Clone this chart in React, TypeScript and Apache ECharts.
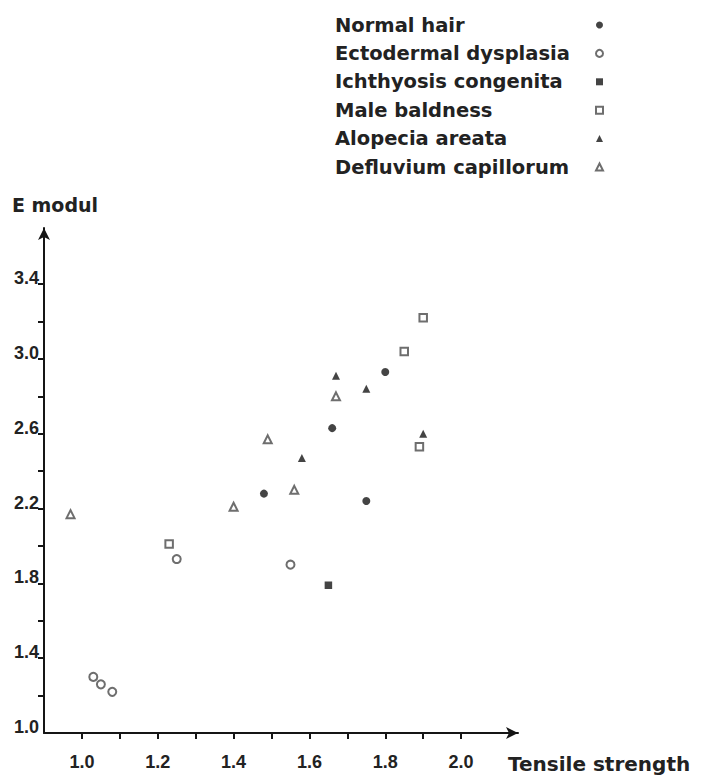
import React, { useEffect, useRef } from "react";
import * as echarts from "echarts";

const categories = [
  "Normal hair",
  "Ectodermal dysplasia",
  "Ichthyosis congenita",
  "Male baldness",
  "Alopecia areata",
  "Defluvium capillorum",
];

const normalHair = [[1.80, 2.93], [1.66, 2.63], [1.48, 2.28], [1.75, 2.24]];
const ectodermalDysplasia = [[1.25, 1.93], [1.55, 1.90], [1.03, 1.30], [1.05, 1.26], [1.08, 1.22]];
const ichthyosisCongenita = [[1.65, 1.79]];
const maleBaldness = [[1.90, 3.22], [1.85, 3.04], [1.89, 2.53], [1.23, 2.01]];
const alopeciaAreata = [[1.67, 2.91], [1.75, 2.84], [1.90, 2.60], [1.58, 2.47]];
const defluviumCapillorum = [[1.67, 2.80], [1.49, 2.57], [1.56, 2.30], [1.40, 2.21], [0.97, 2.17]];

const seriesData = [normalHair, ectodermalDysplasia, ichthyosisCongenita, maleBaldness, alopeciaAreata, defluviumCapillorum];
const seriesSymbols = ["circle", "emptyCircle", "rect", "emptyRect", "triangle", "emptyTriangle"];

const xTickValues = [1.0, 1.1, 1.2, 1.3, 1.4, 1.5, 1.6, 1.7, 1.8, 1.9, 2.0];
const xLabelValues = [1.0, 1.2, 1.4, 1.6, 1.8, 2.0];
const yTickValues = [1.2, 1.4, 1.6, 1.8, 2.0, 2.2, 2.4, 2.6, 2.8, 3.0, 3.2, 3.4];
const yLabelValues = [1.0, 1.4, 1.8, 2.2, 2.6, 3.0, 3.4];

const xAxisName = "Tensile strength";
const yAxisName = "E modul";

const INK = "#151515";
const OPEN = "#4a4a4a";
const TEXT_FONT = "DejaVu Sans";
const TICK_FONT = "Liberation Sans";

export default function App() {
  const ref = useRef<HTMLDivElement>(null);

  useEffect(() => {
    if (!ref.current) return;
    const chart = echarts.init(ref.current, null, { renderer: "svg" });

    const series = categories.map((name, i) => {
      const sym = seriesSymbols[i];
      const empty = sym.startsWith("empty");
      const size = sym.toLowerCase().includes("rect") ? 7.5 : 8;
      return {
        name,
        type: "scatter",
        data: seriesData[i],
        symbol: sym,
        symbolSize: size,
        itemStyle: empty
          ? { color: OPEN, borderColor: OPEN, borderWidth: 1.2 }
          : { color: INK },
      };
    });

    chart.setOption({
      animation: false,
      backgroundColor: "#ffffff",
      grid: { left: 44, right: 186, top: 228, bottom: 48, containLabel: false },
      legend: {
        orient: "vertical",
        left: 335,
        top: 15,
        padding: 0,
        itemGap: 8.4,
        itemWidth: 7,
        itemHeight: 7,
        align: "right",
        data: categories,
        formatter: (name: string) => `{t|${name}}`,
        textStyle: {
          rich: {
            t: {
              width: 256,
              align: "left",
              fontFamily: TEXT_FONT,
              fontSize: 19.5,
              fontWeight: "bold",
              color: "#222",
              lineHeight: 20,
            },
          },
        },
      },
      graphic: [
        {
          type: "text",
          x: 508,
          y: 764,
          silent: true,
          style: {
            text: xAxisName,
            fontFamily: TEXT_FONT,
            fontSize: 20,
            fontWeight: "bold",
            fill: "#222",
            align: "left",
            verticalAlign: "middle",
          },
        },
      ],
      xAxis: {
        type: "value",
        min: 0.9,
        max: 2.15,
        splitLine: { show: false },
        axisLine: {
          onZero: false,
          symbol: ["none", "arrow"],
          symbolSize: [9, 12],
          lineStyle: { color: INK, width: 2 },
        },
        axisTick: {
          show: true,
          customValues: xTickValues,
          length: 6,
          lineStyle: { color: INK, width: 2 },
        },
        axisLabel: {
          customValues: xLabelValues,
          formatter: (v: number) => v.toFixed(1),
          margin: 20,
          fontFamily: TICK_FONT,
          fontSize: 18,
          fontWeight: "bold",
          color: "#222",
        },
      },
      yAxis: {
        type: "value",
        min: 1.0,
        max: 3.7,
        name: yAxisName,
        nameLocation: "end",
        nameGap: 23,
        nameTextStyle: {
          fontFamily: TEXT_FONT,
          fontSize: 19,
          fontWeight: "bold",
          color: "#222",
          align: "center",
          verticalAlign: "middle",
          padding: [0, 0, 0, 22],
        },
        splitLine: { show: false },
        axisLine: {
          onZero: false,
          symbol: ["none", "arrow"],
          symbolSize: [9, 12],
          lineStyle: { color: INK, width: 2 },
        },
        axisTick: {
          show: true,
          customValues: yTickValues,
          length: 6,
          lineStyle: { color: INK, width: 2 },
        },
        axisLabel: {
          customValues: yLabelValues,
          formatter: (v: number) => v.toFixed(1),
          margin: 5,
          verticalAlign: "bottom",
          lineHeight: 12,
          fontFamily: TICK_FONT,
          fontSize: 18,
          fontWeight: "bold",
          color: "#222",
        },
      },
      series,
    });

    return () => chart.dispose();
  }, []);

  return (
    <div
      ref={ref}
      style={{ position: "absolute", left: 0, top: 0, width: 704, height: 781, background: "#fff" }}
    />
  );
}
